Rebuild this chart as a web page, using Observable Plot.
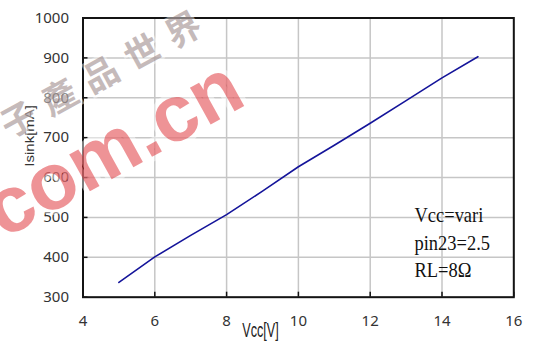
<!DOCTYPE html>
<html>
<head>
<meta charset="utf-8">
<script src="https://cdn.jsdelivr.net/npm/d3@7"></script>
<script src="https://cdn.jsdelivr.net/npm/@observablehq/plot@0.6"></script>
<style>
  html, body { margin: 0; padding: 0; background: #fff; }
  #wrap { position: relative; width: 533px; height: 342px; overflow: hidden; }
  #wm { position: absolute; left: 0; top: 0; pointer-events: none; }
</style>
</head>
<body>
<div id="wrap"></div>
<script>
// ---- data ----
const vcc = [5, 6, 7, 8, 9, 10, 11, 12, 13, 14, 15];
const isink = [337, 401, 455, 507, 566, 627, 681, 736, 793, 850, 903];
const xTicks = [4, 6, 8, 10, 12, 14, 16];
const yTicks = [300, 400, 500, 600, 700, 800, 900, 1000];
const xLabel = "Vcc[V]";
const yLabel = "Isink[mA]";
const annotation = ["Vcc=vari", "pin23=2.5", "RL=8Ω"];
const watermarkChars = "子產品世界";
const watermarkUrl = ".com.cn";

const data = vcc.map((v, i) => ({vcc: v, isink: isink[i]}));

const W = 533, H = 342;
const mL = 82.5, mR = 19.7, mT = 17.5, mB = 45.3;
const plotH = H - mT - mB;

const chart = Plot.plot({
  width: W,
  height: H,
  marginLeft: mL,
  marginRight: mR,
  marginTop: mT,
  marginBottom: mB,
  x: {domain: [4, 16]},
  y: {domain: [300, 1000]},
  style: {fontFamily: "'Noto Sans', sans-serif", background: "#fff", overflow: "visible"},
  marks: [
    Plot.gridX(xTicks, {stroke: "#c6c6c6", strokeOpacity: 1, strokeWidth: 1.5}),
    Plot.gridY(yTicks, {stroke: "#c6c6c6", strokeOpacity: 1, strokeWidth: 1.5}),
    Plot.tickX(xTicks, {x: d => d, insetTop: plotH - 5, stroke: "#111", strokeWidth: 1.5}),
    Plot.tickY(yTicks, {y: d => d, insetRight: (W - mL - mR) - 5, stroke: "#111", strokeWidth: 1.5}),
    Plot.frame({stroke: "#141414", strokeWidth: 2}),
    Plot.axisX(xTicks, {tickSize: 0, tickPadding: 18.5, fontSize: 15, fill: "#333", label: null, tickFormat: d => String(d)}),
    Plot.axisY(yTicks, {tickSize: 0, tickPadding: 14, fontSize: 15, fill: "#333", label: null, tickFormat: d => String(d)}),
    Plot.line(data, {x: "vcc", y: "isink", stroke: "#14149a", strokeWidth: 1.6}),
    Plot.text([xLabel], {
      frameAnchor: "bottom", lineAnchor: "bottom",
      dx: 260 - (mL + (W - mR)) / 2, dy: 39.5,
      fontSize: 20, fontFamily: "'Liberation Sans', Arial, sans-serif", fill: "#222"
    }),
    Plot.text([yLabel], {
      frameAnchor: "left", rotate: -90, lineAnchor: "middle",
      dx: 30 - mL, dy: 160 - (mT + (H - mB)) / 2,
      fontSize: 12, fontFamily: "'Liberation Sans', Arial, sans-serif", fill: "#333"
    }),
    Plot.text([annotation.join("\n")], {
      frameAnchor: "bottom-left", textAnchor: "start", lineAnchor: "bottom",
      dx: 414 - mL, dy: -20, lineHeight: 1.25,
      fontSize: 22, fontFamily: "'Liberation Serif', 'Times New Roman', serif", fill: "#111"
    })
  ]
});

const wrap = document.getElementById("wrap");
wrap.appendChild(chart);

// squeeze a text element around its anchor point, working in the parent's local coordinates
function squeezeText(test, kx, ky, anchor) {
  Array.from(chart.querySelectorAll("text")).filter(t => test(t.textContent)).forEach(t => {
    const r = t.getBoundingClientRect();
    const parent = t.parentNode;
    const inv = parent.getScreenCTM().inverse();
    const p = chart.createSVGPoint();
    p.x = anchor === "start" ? r.left : r.left + r.width / 2;
    p.y = r.top + r.height / 2;
    const lp = p.matrixTransform(inv);
    const g = document.createElementNS("http://www.w3.org/2000/svg", "g");
    g.setAttribute("transform", `translate(${lp.x},${lp.y}) scale(${kx},${ky}) translate(${-lp.x},${-lp.y})`);
    parent.insertBefore(g, t);
    g.appendChild(t);
  });
}
squeezeText(s => s === xLabel, 0.63, 1, "middle");
squeezeText(s => s === yLabel, 1, 1.25, "middle");
squeezeText(s => s.startsWith(annotation[0]), 0.84, 1, "start");

// ---- watermark overlay ----
const wm = d3.select(wrap).append("svg")
  .attr("id", "wm").attr("width", W).attr("height", H);

wm.append("text")
  .attr("transform", "translate(8.9,138.9) rotate(-28.6)")
  .attr("font-family", "'Noto Sans CJK TC', 'Noto Sans CJK SC', sans-serif")
  .attr("font-weight", "bold")
  .attr("font-size", 35)
  .attr("letter-spacing", 12)
  .attr("fill", "rgba(140,118,118,0.5)")
  .attr("stroke", "rgba(255,255,255,0.45)")
  .attr("stroke-width", 5)
  .attr("paint-order", "stroke")
  .text(watermarkChars);

wm.append("text")
  .attr("transform", "translate(-16,250) rotate(-29)")
  .attr("font-family", "'Liberation Sans', Arial, sans-serif")
  .attr("font-weight", "bold")
  .attr("font-size", 80)
  .attr("fill", "rgba(222,40,45,0.5)")
  .attr("stroke", "rgba(255,255,255,0.45)")
  .attr("stroke-width", 10)
  .attr("stroke-linejoin", "round")
  .attr("paint-order", "stroke")
  .text(watermarkUrl);
</script>
</body>
</html>
